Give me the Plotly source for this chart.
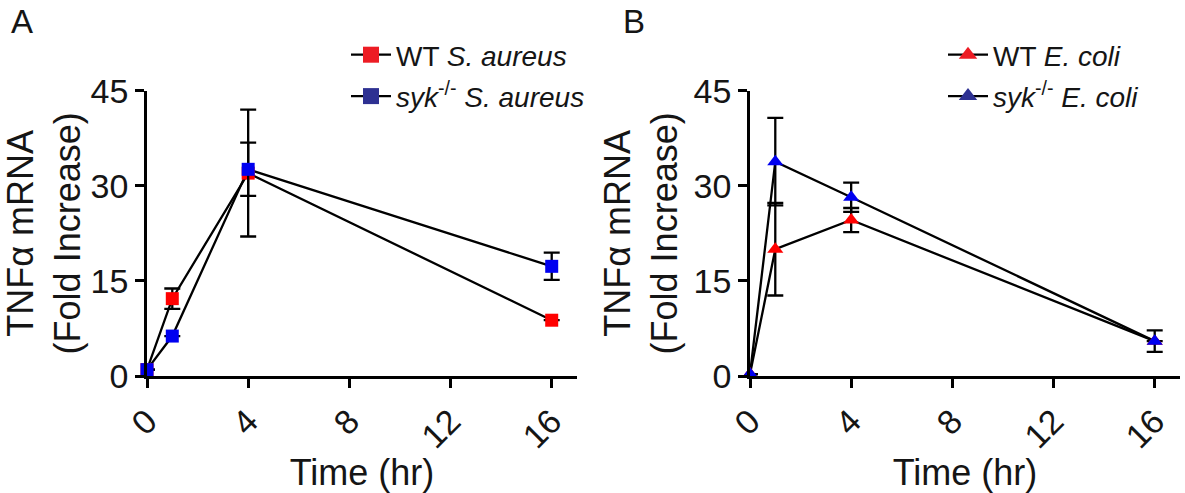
import plotly.graph_objects as go

# ---------------- data ----------------
time_hr = [0, 1, 4, 16]

wt_saureus = [1.0, 12.2, 32.0, 8.8]
wt_saureus_err = [0.0, 1.6, 10.0, 0.0]
syk_saureus = [1.0, 6.3, 32.6, 17.3]
syk_saureus_err = [0.0, 0.0, 4.2, 2.15]

wt_ecoli = [0.3, 20.0, 24.6, 5.5]
wt_ecoli_err = [0.0, 7.3, 1.9, 0.0]
syk_ecoli = [0.3, 33.8, 28.2, 5.5]
syk_ecoli_err = [0.0, 6.9, 2.3, 1.7]

x_ticks = [0, 4, 8, 12, 16]
y_ticks = [0, 15, 30, 45]

FONT = "Arial, Liberation Sans, sans-serif"
TXT = "#151515"
RED_PLOT, BLUE_PLOT = "#FF0000", "#0000F0"
RED_LEG, BLUE_LEG = "#ED1C24", "#2E3192"

fig = go.Figure()


def add_series(xa, ya, y, err, color, symbol, size):
    fig.add_trace(go.Scatter(x=time_hr, y=y, mode="lines", xaxis=xa, yaxis=ya,
                             line=dict(color="black", width=2.3),
                             showlegend=False, hoverinfo="skip", cliponaxis=False))
    return dict(x=time_hr, y=y, mode="markers", xaxis=xa, yaxis=ya,
                marker=dict(color=color, symbol=symbol, size=size, line=dict(width=0)),
                error_y=dict(type="data", array=err, visible=True, color="black",
                             thickness=2.3, width=8),
                showlegend=False, cliponaxis=False)


markers = []
markers.append(add_series("x", "y", wt_saureus, wt_saureus_err, RED_PLOT, "square", 13))
markers.append(add_series("x", "y", syk_saureus, syk_saureus_err, BLUE_PLOT, "square", 13))
markers.append(add_series("x2", "y2", wt_ecoli, wt_ecoli_err, RED_PLOT, "triangle-up", 14))
markers.append(add_series("x2", "y2", syk_ecoli, syk_ecoli_err, BLUE_PLOT, "triangle-up", 14))
for m in markers:
    fig.add_trace(go.Scatter(**m))

# legend entries
leg_items = [
    ("WT <i>S. aureus</i>", RED_LEG, "square", "legend", "x", "y"),
    ("<i>syk</i><sup>-/-</sup> <i>S. aureus</i>", BLUE_LEG, "square", "legend", "x", "y"),
    ("WT <i>E. coli</i>", RED_LEG, "triangle-up", "legend2", "x2", "y2"),
    ("<i>syk</i><sup>-/-</sup> <i>E. coli</i>", BLUE_LEG, "triangle-up", "legend2", "x2", "y2"),
]
for i, (name, col, sym, leg, xa, ya) in enumerate(leg_items):
    fig.add_trace(go.Scatter(x=[None], y=[None], mode="lines+markers", name=name,
                             xaxis=xa, yaxis=ya, legend=leg, legendgroup=f"g{i}",
                             line=dict(color="black", width=2.3),
                             marker=dict(color=col, symbol=sym, size=18, line=dict(width=0))))

W, H = 1185, 493
y_dom = [1 - 376 / H, 1 - 90.7 / H]

xax = dict(range=[0, 17], tickvals=x_ticks, ticks="outside", ticklen=9, tickwidth=2.5,
           tickcolor="black", showline=True, linecolor="black", linewidth=2.5,
           showgrid=False, zeroline=False, tickangle=-45, automargin=False,
           tickfont=dict(family=FONT, size=34, color=TXT),
           title=dict(text="Time (hr)", font=dict(family=FONT, size=36, color=TXT), standoff=14))
yax = dict(range=[0, 45], tickvals=y_ticks, ticks="outside", ticklen=9, tickwidth=2.5,
           tickcolor="black", showline=True, linecolor="black", linewidth=2.5,
           showgrid=False, zeroline=False, automargin=False,
           tickfont=dict(family=FONT, size=34, color=TXT),
           title=dict(text="TNF\u03b1 mRNA<br>(Fold Increase)",
                      font=dict(family=FONT, size=36, color=TXT), standoff=6))

fig.update_layout(
    width=W, height=H,
    margin=dict(l=0, r=0, t=0, b=0),
    paper_bgcolor="white", plot_bgcolor="white",
    font=dict(family=FONT, color=TXT),
    xaxis=dict(domain=[147 / W, 577 / W], anchor="y", **xax),
    yaxis=dict(domain=y_dom, anchor="x", **yax),
    xaxis2=dict(domain=[750 / W, 1180 / W], anchor="y2", **xax),
    yaxis2=dict(domain=y_dom, anchor="x2", **yax),
    legend=dict(x=346 / W, y=1 - 30 / H, xanchor="left", yanchor="top",
                bgcolor="rgba(0,0,0,0)", font=dict(family=FONT, size=28, color=TXT),
                tracegroupgap=2, itemwidth=40),
    legend2=dict(x=943 / W, y=1 - 30 / H, xanchor="left", yanchor="top",
                 bgcolor="rgba(0,0,0,0)", font=dict(family=FONT, size=28, color=TXT),
                 tracegroupgap=2, itemwidth=40),
    showlegend=True,
    annotations=[
        dict(text="A", x=22 / W, y=1 - 21 / H, xref="paper", yref="paper",
             xanchor="center", yanchor="middle",
             showarrow=False, font=dict(family=FONT, size=33, color=TXT)),
        dict(text="B", x=634 / W, y=1 - 21 / H, xref="paper", yref="paper",
             xanchor="center", yanchor="middle",
             showarrow=False, font=dict(family=FONT, size=33, color=TXT)),
    ],
)

fig.write_html("out.html", config={"displayModeBar": False},
               post_script="document.body.style.margin='0px';document.body.style.overflow='hidden';")
